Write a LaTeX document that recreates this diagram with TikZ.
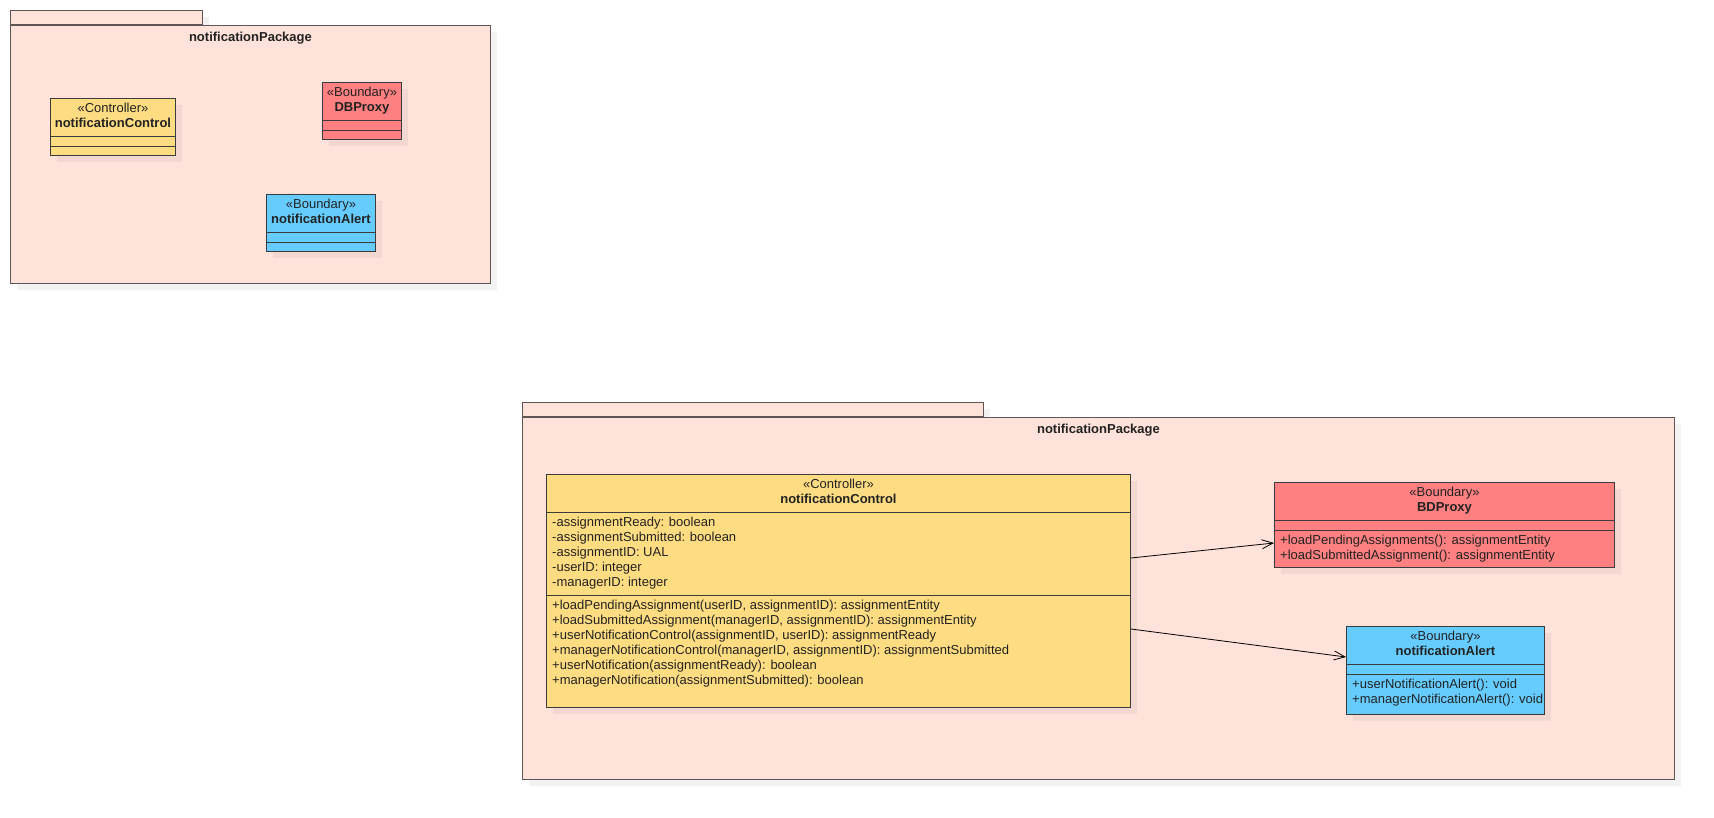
\documentclass[tikz,border=0pt]{standalone}
\usepackage{fontspec}
\setmainfont{Liberation Sans}
\usetikzlibrary{arrows.meta,calc,shadows}

\definecolor{pkgfill}{HTML}{FFE2D9}
\definecolor{pkgline}{HTML}{5E5654}
\definecolor{pkgshadow}{HTML}{F2F2F2}
\definecolor{clsline}{HTML}{3C3C3C}
\definecolor{clsshadow}{HTML}{F2D8D1}
\definecolor{ctrlfill}{HTML}{FEDC82}
\definecolor{proxyfill}{HTML}{FF8080}
\definecolor{alertfill}{HTML}{66CCFF}
\definecolor{txtc}{HTML}{222222}

\tikzset{
  pkgbox/.style={rectangle, draw=pkgline, fill=pkgfill, line width=0.9pt,
    inner sep=0pt, anchor=north west,
    drop shadow={shadow xshift=7pt, shadow yshift=-7pt, fill=pkgshadow, opacity=1}},
  classbox/.style={rectangle, draw=clsline, line width=0.9pt,
    inner sep=0pt, anchor=north west,
    drop shadow={shadow xshift=7pt, shadow yshift=-7pt, fill=clsshadow, opacity=1}},
  divider/.style={draw=clsline, line width=0.9pt},
  basetxt/.style={font=\fontsize{13}{15}\selectfont, text=txtc, inner sep=0pt},
  stereo/.style={basetxt, anchor=mid},
  cname/.style={basetxt, anchor=mid, font=\fontsize{13}{15}\selectfont\bfseries},
  pkgname/.style={basetxt, anchor=mid, font=\fontsize{13}{15}\selectfont\bfseries},
  member/.style={basetxt, anchor=mid west},
  assoc/.style={draw=black, line width=0.8pt, -{Straight Barb[length=11pt,width=9pt]}},
}

% class box: name, position, width, height, fill, stereotype, title, divider 1, divider 2
\newcommand\umlbox[9]{%
  \node[classbox, fill=#5, minimum width=#3pt, minimum height=#4pt] (#1) at #2 {};
  \node[stereo] (#1-st) at ($(#1.north)+(0,11.5)$) {«#6»};
  \node[cname] (#1-nm) at ($(#1.north)+(0,26.5)$) {#7};
  \draw[divider] ($(#1.north west)+(0,#8)$) -- ($(#1.north east)+(0,#8)$);
  \draw[divider] ($(#1.north west)+(0,#9)$) -- ($(#1.north east)+(0,#9)$);
}

% package: name, tab position, tab width, body width, body height
\newcommand\umlpackage[5]{%
  \node[pkgbox, minimum width=#3pt, minimum height=14pt] (#1-tab) at #2 {};
  \node[pkgbox, minimum width=#4pt, minimum height=#5pt] (#1) at (#1-tab.south west) {};
  \node[pkgname] (#1-nm) at ($(#1.north)+(0,14)$) {notificationPackage};
}

\begin{document}
\begin{tikzpicture}[x=1pt, y=-1pt]
\useasboundingbox (0,0) rectangle (1714,818);

% ---- overview package ----
\umlpackage{pkgA}{(10,10)}{192}{480}{258}
\umlbox{ctrlS}{(50,98)}{125}{57}{ctrlfill}{Controller}{notificationControl}{38}{48}
\umlbox{dbS}{(322,82)}{79}{57}{proxyfill}{Boundary}{DBProxy}{38}{48}
\umlbox{alS}{(266,194)}{109}{57}{alertfill}{Boundary}{notificationAlert}{38}{48}

% ---- detailed package ----
\umlpackage{pkgB}{(522,402)}{461}{1152}{362}
\umlbox{ctrlB}{(546,474)}{584}{233}{ctrlfill}{Controller}{notificationControl}{38}{121}
\umlbox{bdB}{(1274,482)}{340}{85}{proxyfill}{Boundary}{BDProxy}{38}{48}
\umlbox{alB}{(1346,626)}{198}{88}{alertfill}{Boundary}{notificationAlert}{38}{48}

% notificationControl attributes
\foreach [count=\i] \t in {{-assignmentReady: boolean},
    {-assignmentSubmitted: boolean},
    {-assignmentID: UAL},
    {-userID: integer},
    {-managerID: integer}}
  \node[member] (ctrlB-a\i) at ($(ctrlB.north west)+(6,{50+15*(\i-1)})$) {\t};

% notificationControl operations
\foreach [count=\i] \t in {{+loadPendingAssignment(userID, assignmentID): assignmentEntity},
    {+loadSubmittedAssignment(managerID, assignmentID): assignmentEntity},
    {+userNotificationControl(assignmentID, userID): assignmentReady},
    {+managerNotificationControl(managerID, assignmentID): assignmentSubmitted},
    {+userNotification(assignmentReady): boolean},
    {+managerNotification(assignmentSubmitted): boolean}}
  \node[member] (ctrlB-m\i) at ($(ctrlB.north west)+(6,{133+15*(\i-1)})$) {\t};

% BDProxy operations
\foreach [count=\i] \t in {{+loadPendingAssignments(): assignmentEntity},
    {+loadSubmittedAssignment(): assignmentEntity}}
  \node[member] (bdB-m\i) at ($(bdB.north west)+(6,{59.5+15*(\i-1)})$) {\t};

% notificationAlert operations
\foreach [count=\i] \t in {{+userNotificationAlert(): void},
    {+managerNotificationAlert(): void}}
  \node[member] (alB-m\i) at ($(alB.north west)+(6,{59.5+15*(\i-1)})$) {\t};

% associations
\draw[assoc] ($(ctrlB.north east)+(0,84)$) -- ($(bdB.north west)+(0,61)$);
\draw[assoc] ($(ctrlB.north east)+(0,155)$) -- ($(alB.north west)+(0,31)$);
\end{tikzpicture}
\end{document}
